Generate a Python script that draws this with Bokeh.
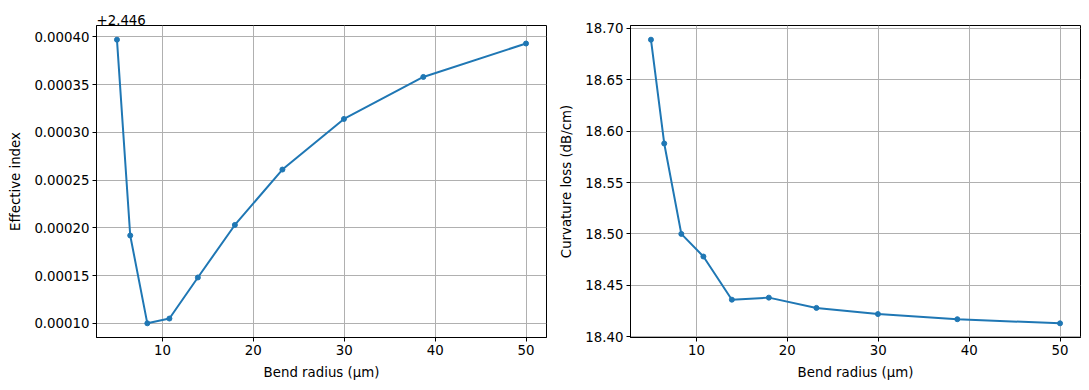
from bokeh.plotting import figure
from bokeh.layouts import row
from bokeh.models import Range1d, FixedTicker, NumeralTickFormatter
from bokeh.embed import file_html
from bokeh.resources import INLINE

# ---- data ----
bend_radius = [5.0, 6.46, 8.34, 10.77, 13.9, 17.97, 23.2, 29.97, 38.7, 50.0]
neff_offset = 2.446
neff_delta = [0.000397, 0.000192, 0.000100, 0.000105, 0.000148,
              0.000203, 0.000261, 0.000314, 0.000358, 0.000393]
loss_db_cm = [18.689, 18.588, 18.500, 18.478, 18.436,
              18.438, 18.428, 18.422, 18.417, 18.413]
x_ticks = [10, 20, 30, 40, 50]
neff_ticks = [0.00010, 0.00015, 0.00020, 0.00025, 0.00030, 0.00035, 0.00040]
loss_ticks = [18.40, 18.45, 18.50, 18.55, 18.60, 18.65, 18.70]

FONT = "DejaVu Sans"
FS = "13.33px"
BLUE = "#1f77b4"


def padded(vals, frac=0.05):
    lo, hi = min(vals), max(vals)
    m = (hi - lo) * frac
    return Range1d(lo - m, hi + m)


def make_fig(y, ylabel, yticks, yfmt, width, left, right, title=None):
    kw = {}
    if title is not None:
        kw["title"] = title
    p = figure(width=width, height=390, output_backend="svg", toolbar_location=None,
               x_range=padded(bend_radius), y_range=padded(y),
               min_border_left=left, min_border_right=right,
               min_border_top=25, min_border_bottom=53, **kw)
    p.background_fill_color = "white"
    p.border_fill_color = "white"
    p.outline_line_color = "black"
    p.outline_line_width = 1
    p.line(bend_radius, y, line_color=BLUE, line_width=2)
    p.scatter(bend_radius, y, size=5, fill_color=BLUE, line_color=BLUE)

    p.xaxis.ticker = FixedTicker(ticks=x_ticks)
    p.yaxis.ticker = FixedTicker(ticks=yticks)
    p.yaxis.formatter = NumeralTickFormatter(format=yfmt)
    p.xaxis.axis_label = "Bend radius (μm)"
    p.yaxis.axis_label = ylabel
    for ax in (p.xaxis, p.yaxis):
        ax.axis_label_text_font = FONT
        ax.axis_label_text_font_size = FS
        ax.axis_label_text_font_style = "normal"
        ax.axis_label_text_color = "black"
        ax.major_label_text_font = FONT
        ax.major_label_text_font_size = FS
        ax.major_label_text_color = "black"
        ax.major_tick_out = 4
        ax.major_tick_in = 0
        ax.minor_tick_out = 0
        ax.minor_tick_in = 0
        ax.major_tick_line_color = "black"
        ax.axis_line_color = "black"
        ax.major_label_standoff = 3
    p.xaxis.axis_label_standoff = 7
    p.yaxis.axis_label_standoff = 8
    for g in (p.xgrid, p.ygrid):
        g.grid_line_color = "#b0b0b0"
        g.grid_line_width = 1
    if title is not None:
        p.title.align = "left"
        p.title.text_font = FONT
        p.title.text_font_size = FS
        p.title.text_font_style = "normal"
        p.title.text_color = "black"
        p.title.standoff = 2
        p.title.offset = 0
    return p


p1 = make_fig(neff_delta, "Effective index", neff_ticks, "0.00000", 554, 96, 8,
              title=f"+{neff_offset}")
p2 = make_fig(loss_db_cm, "Curvature loss (dB/cm)", loss_ticks, "0.00", 535, 76, 9)

layout = row(p1, p2)
open("out.html", "w").write(file_html(layout, INLINE))
